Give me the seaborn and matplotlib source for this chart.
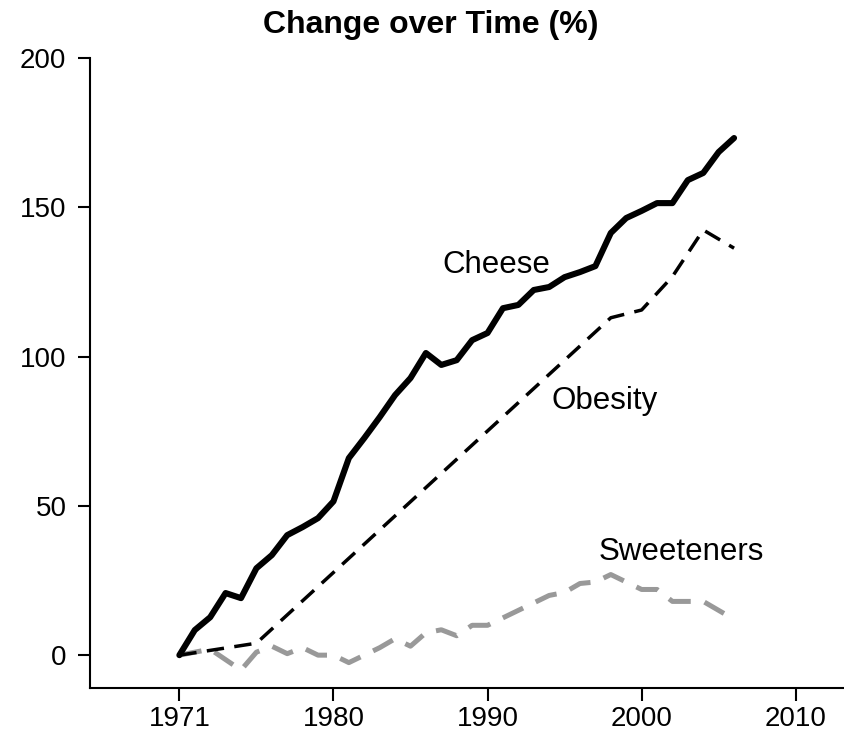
import matplotlib
matplotlib.use("Agg")
import matplotlib.pyplot as plt
import seaborn as sns
import pandas as pd

# data
years = list(range(1971, 2008))
cheese = [0, 8.4, 12.7, 20.8, 19.1, 29.1, 33.5, 40.2, 42.9, 45.9,
          51.5, 66, 72.7, 79.7, 87.1, 92.8, 101.2, 97.2, 98.8, 105.5,
          107.9, 116.2, 117.3, 122.3, 123.3, 126.6, 128.3, 130.3, 141.4, 146.4,
          148.8, 151.4, 151.4, 159.1, 161.5, 168.5, 173.2]
sweeteners = [0, 1, 2, -1.5, -5, 1, 3, 0.5, 2.5, 0,
              0, -2.5, 0, 2.5, 5.5, 3, 7.5, 8.5, 6.5, 10,
              10, 12.5, 15, 17.5, 20, 21, 24, 24.5, 27, 24.5,
              22, 22, 18, 18, 18, 15, 12]
obesity_years = [1971, 1976, 1999, 2001, 2003, 2005, 2007]
obesity = [0, 4, 113, 115.6, 126.8, 142.4, 136.3]

xtick_pos = [1971, 1981, 1991, 2001, 2011]
xtick_labels = ["1971", "1980", "1990", "2000", "2010"]
yticks = [0, 50, 100, 150, 200]

df = pd.DataFrame({"year": years, "cheese": cheese, "sweeteners": sweeteners})
df_ob = pd.DataFrame({"year": obesity_years, "obesity": obesity})

sns.set_style("ticks")
plt.rcParams["font.family"] = ["Liberation Sans", "DejaVu Sans"]
plt.rcParams["text.color"] = "black"

fig = plt.figure(figsize=(8.45, 7.4), dpi=100)
ax = fig.add_axes([90 / 845, 1 - 688 / 740, 1 - 90 / 845, (688 - 58) / 740])

sns.lineplot(data=df, x="year", y="sweeteners", ax=ax, color="#999999",
             linewidth=3.6, linestyle=(0, (4.5, 2.8)))
sns.lineplot(data=df_ob, x="year", y="obesity", ax=ax, color="black",
             linewidth=2.5, linestyle=(0, (5, 3)))
sns.lineplot(data=df, x="year", y="cheese", ax=ax, color="black",
             linewidth=4.4, solid_capstyle="round")

ax.set_xlim(1965.2, 2014.2)
ax.set_ylim(-11, 200)
ax.set_xticks(xtick_pos)
ax.set_xticklabels(xtick_labels)
ax.set_yticks(yticks)
ax.set_xlabel("")
ax.set_ylabel("")
for s in ["top", "right"]:
    ax.spines[s].set_visible(False)
for s in ["left", "bottom"]:
    ax.spines[s].set_linewidth(1.5)
    ax.spines[s].set_color("black")
ax.tick_params(axis="both", length=9, width=1.5, labelsize=20, colors="black")
ax.tick_params(axis="y", pad=8)
ax.tick_params(axis="x", pad=4)

ax.text(1991.6, 130.7, "Cheese", fontsize=22.5, ha="center", va="center", color="black")
ax.text(1998.6, 85, "Obesity", fontsize=22.5, ha="center", va="center", color="black")
ax.text(2003.6, 34.5, "Sweeteners", fontsize=22.5, ha="center", va="center", color="black")

fig.text(431 / 845, 1 - 25 / 740, "Change over Time (%)", fontsize=23,
         fontweight="bold", ha="center", va="center", color="black")

fig.savefig("out.png", dpi=100)
